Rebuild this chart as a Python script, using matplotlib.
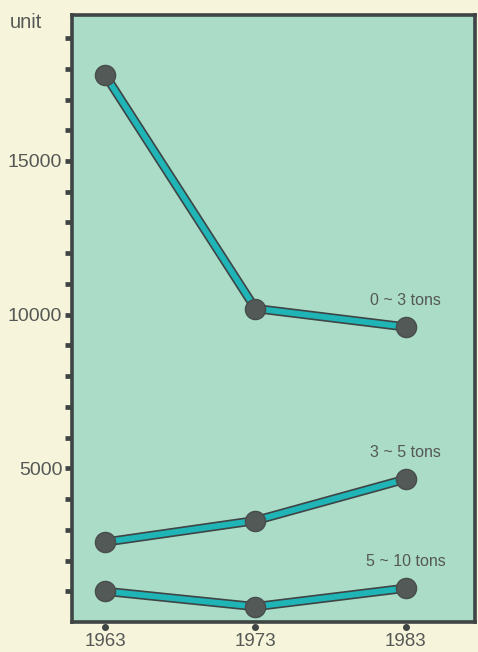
import matplotlib.pyplot as plt
from matplotlib.transforms import blended_transform_factory

years = [1963, 1973, 1983]
tons_0_3 = [17800, 10200, 9600]
tons_3_5 = [2600, 3300, 4650]
tons_5_10 = [1000, 500, 1100]
series_names = ['0 ~ 3 tons', '3 ~ 5 tons', '5 ~ 10 tons']

plt.rcParams['font.family'] = ['Liberation Sans', 'DejaVu Sans']

bg = '#f6f5dc'
face = '#aadcc8'
dark = '#3f4444'
teal = '#1fb4b6'
text_col = '#555855'

fig = plt.figure(figsize=(4.78, 6.52), dpi=100, facecolor=bg)
ax = fig.add_axes([0.1506, 0.046, 0.843, 0.931])
ax.set_facecolor(face)

for vals in (tons_0_3, tons_3_5, tons_5_10):
    ax.plot(years, vals, color=dark, lw=6.6, solid_capstyle='round', zorder=2)
    ax.plot(years, vals, color=teal, lw=4.2, solid_capstyle='round', zorder=3)
    ax.plot(years, vals, 'o', color='#535957', ms=14.5, mec='#484d4c', mew=1, zorder=4)

# series labels above the last point of each line
label_vals = [tons_0_3[-1], tons_3_5[-1], tons_5_10[-1]]
for name, v in zip(series_names, label_vals):
    ax.annotate(name, (years[-1], v), xytext=(0, 14), textcoords='offset points',
                ha='center', va='bottom', fontsize=11.5, color=text_col)

ax.set_xlim(1960.8, 1987.6)
ax.set_ylim(0, 19750)

for s in ax.spines.values():
    s.set_color(dark)
    s.set_linewidth(2.6)

ax.set_yticks([5000, 10000, 15000])
ax.set_yticks(range(1000, 20000, 1000), minor=True)
ax.tick_params(axis='y', which='both', direction='out', length=5, width=3.4,
               color=dark, labelsize=14, labelcolor=text_col, pad=2)

# years: dot marks under the axis instead of tick lines
ax.set_xticks(years)
ax.set_xticklabels([str(y) for y in years])
ax.tick_params(axis='x', length=0, labelsize=13.5, labelcolor=text_col, pad=8)
trans = blended_transform_factory(ax.transData, ax.transAxes)
ax.plot(years, [-0.0085] * 3, 'o', color=dark, ms=4, transform=trans, clip_on=False)

fig.text(0.021, 0.966, 'unit', fontsize=14.5, color=text_col, ha='left', va='center')

fig.savefig('out.png', dpi=100, facecolor=bg)
